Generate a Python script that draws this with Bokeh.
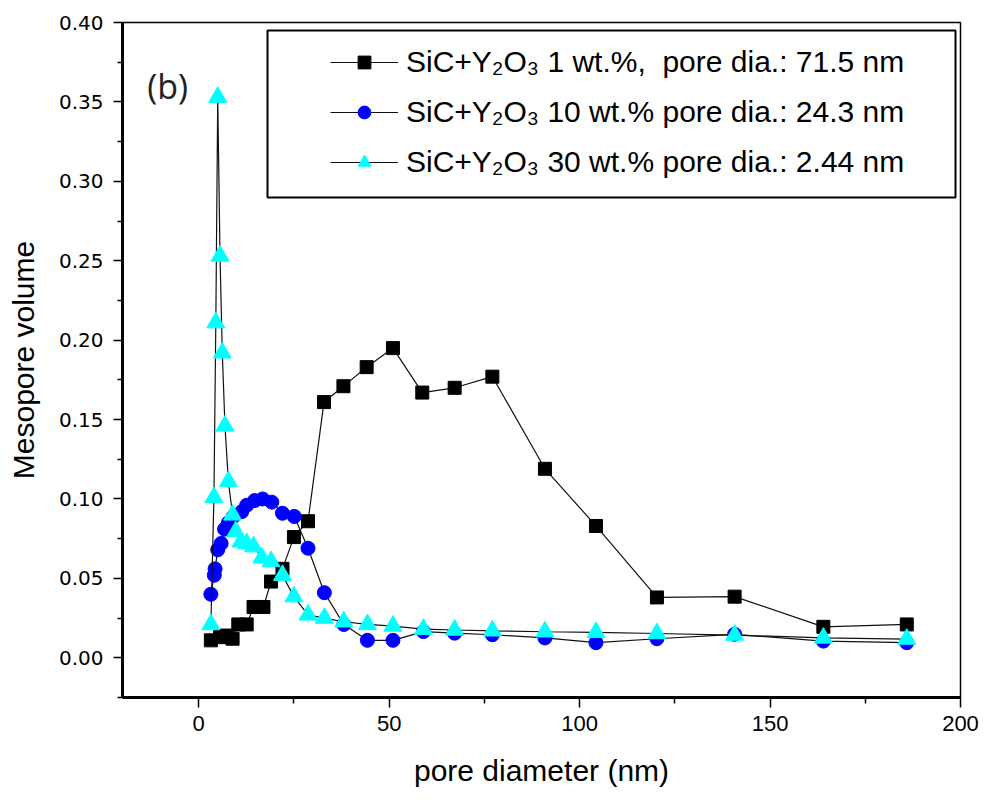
from bokeh.plotting import figure
from bokeh.models import (Range1d, FixedTicker, NumeralTickFormatter, Legend, LegendItem,
                          Label, BoxAnnotation)
from bokeh.embed import file_html
from bokeh.resources import INLINE

# ---------------- data ----------------
x_1wt = [3.2, 5.6, 7.4, 8.9, 10.4, 12.6, 14.4, 17.0, 19.0, 22.0, 25.0, 28.7, 32.9, 38.0,
         44.1, 51.0, 58.7, 67.2, 77.1, 90.9, 104.3, 120.3, 140.7, 164.0, 185.9]
y_1wt = [0.011, 0.013, 0.014, 0.012, 0.021, 0.021, 0.032, 0.032, 0.048, 0.056, 0.076, 0.086,
         0.161, 0.171, 0.183, 0.195, 0.167, 0.170, 0.177, 0.119, 0.083, 0.038, 0.0385, 0.0195, 0.021]

x_10wt = [3.2, 4.1, 4.3, 5.0, 5.9, 6.8, 7.8, 9.1, 11.3, 12.6, 14.7, 16.8, 19.2, 22.0, 25.1,
          28.7, 33.0, 38.1, 44.3, 51.0, 59.0, 67.2, 77.1, 90.9, 104.3, 120.3, 140.7, 164.0, 185.9]
y_10wt = [0.040, 0.052, 0.056, 0.068, 0.072, 0.081, 0.085, 0.089, 0.092, 0.096, 0.099, 0.100,
          0.098, 0.091, 0.089, 0.069, 0.041, 0.021, 0.011, 0.011, 0.0165, 0.0155, 0.0145,
          0.0125, 0.0095, 0.012, 0.0148, 0.0105, 0.0095]

x_30wt = [3.2, 4.0, 4.5, 5.0, 5.6, 6.2, 6.9, 7.8, 8.9, 9.7, 11.1, 12.6, 14.4, 16.6, 19.0, 22.0,
          25.0, 28.7, 33.0, 38.1, 44.3, 51.0, 59.0, 67.2, 77.1, 90.9, 104.3, 120.3, 140.7, 164.0, 185.9]
y_30wt = [0.021, 0.101, 0.211, 0.353, 0.253, 0.192, 0.146, 0.111, 0.090, 0.0795, 0.073, 0.072,
          0.070, 0.063, 0.0606, 0.052, 0.0385, 0.027, 0.025, 0.0227, 0.021, 0.020, 0.018, 0.0175,
          0.017, 0.0164, 0.016, 0.0153, 0.0143, 0.0125, 0.0118]

labels = ["SiC+Y\u2082O\u2083 1 wt.%,  pore dia.: 71.5 nm",
          "SiC+Y\u2082O\u2083 10 wt.% pore dia.: 24.3 nm",
          "SiC+Y\u2082O\u2083 30 wt.% pore dia.: 2.44 nm"]

x_major = [0, 50, 100, 150, 200]
x_minor = [25, 75, 125, 175]
y_major = [0.00, 0.05, 0.10, 0.15, 0.20, 0.25, 0.30, 0.35, 0.40]
y_minor = [-0.025, 0.025, 0.075, 0.125, 0.175, 0.225, 0.275, 0.325, 0.375]

x_title = "pore diameter (nm)"
y_title = "Mesopore volume"
panel_tag = "(b)"

# ---------------- figure ----------------
p = figure(width=985, height=800, output_backend="svg", toolbar_location=None,
           x_range=Range1d(-20, 200), y_range=Range1d(-0.025, 0.40),
           min_border_left=122, min_border_right=25, min_border_top=22, min_border_bottom=103)
p.background_fill_color = "white"
p.border_fill_color = "white"
p.grid.visible = False
p.outline_line_color = "black"
p.outline_line_width = 1.5

LINE = "#111111"
r1l = p.line(x_1wt, y_1wt, line_color=LINE, line_width=1.2)
r1m = p.scatter(x_1wt, y_1wt, marker="square", size=13, fill_color="black", line_color="black")
r2l = p.line(x_10wt, y_10wt, line_color=LINE, line_width=1.2)
r2m = p.scatter(x_10wt, y_10wt, marker="circle", size=14, fill_color="#0000FF", line_color="#0000FF")
r3l = p.line(x_30wt, y_30wt, line_color=LINE, line_width=1.2)
r3m = p.scatter(x_30wt, y_30wt, marker="triangle", size=18, fill_color="#00FFFF", line_color="#00FFFF")

# axes
xa = p.xaxis[0]
ya = p.yaxis[0]
xa.ticker = FixedTicker(ticks=x_major, minor_ticks=x_minor)
ya.ticker = FixedTicker(ticks=y_major, minor_ticks=y_minor)
ya.formatter = NumeralTickFormatter(format="0.00")
xa.formatter = NumeralTickFormatter(format="0")
for ax in (xa, ya):
    ax.axis_line_width = 3
    ax.axis_line_color = "black"
    ax.major_tick_line_width = 1.5
    ax.minor_tick_line_width = 1.5
    ax.major_tick_in = 0
    ax.minor_tick_in = 0
    ax.major_label_text_color = "black"
    ax.axis_label_text_color = "black"
    ax.axis_label_text_font = "Liberation Sans"
    ax.axis_label_text_font_style = "normal"
    ax.axis_label_text_font_size = "30px"
xa.major_tick_out = 10
xa.minor_tick_out = 6
ya.major_tick_out = 9
ya.minor_tick_out = 5
xa.major_label_text_font = "Liberation Sans"
xa.major_label_text_font_size = "22px"
xa.major_label_standoff = 8
xa.axis_label = x_title
xa.axis_label_standoff = 20
ya.major_label_text_font = "DejaVu Sans"
ya.major_label_text_font_size = "20px"
ya.major_label_standoff = 10
ya.axis_label = y_title
ya.axis_label_standoff = 16

# legend frame
box = BoxAnnotation(left=145, right=833, bottom=500, top=667,
                    left_units="screen", right_units="screen", top_units="screen", bottom_units="screen",
                    fill_color="white", fill_alpha=1.0, line_color="black", line_alpha=1.0,
                    line_width=2)
p.add_layout(box)

legend = Legend(items=[LegendItem(label=labels[0], renderers=[r1l, r1m]),
                       LegendItem(label=labels[1], renderers=[r2l, r2m]),
                       LegendItem(label=labels[2], renderers=[r3l, r3m])],
                location=(208, 517), padding=0, margin=0, spacing=14,
                glyph_width=68, glyph_height=32, label_height=36, label_standoff=8,
                label_text_font="Liberation Sans", label_text_font_size="30px",
                label_text_color="black",
                border_line_alpha=0, background_fill_alpha=0)
p.add_layout(legend)

p.add_layout(Label(x=-13.5, y=0.360, text=panel_tag, text_font="Open Sans",
                   text_font_size="34px", text_baseline="middle", text_align="left",
                   text_color="#222222"))

open("out.html", "w").write(file_html(p, INLINE))
